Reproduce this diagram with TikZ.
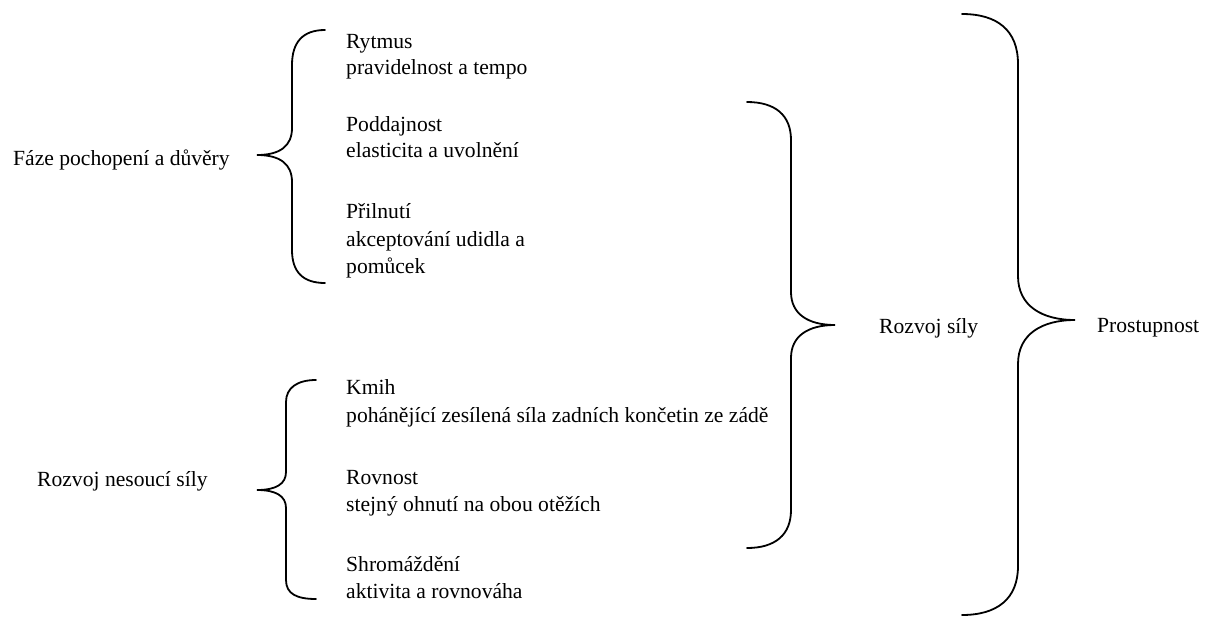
\documentclass[tikz,border=0pt]{standalone}
\usepackage{fontspec}
\setmainfont{Liberation Serif}
\begin{document}
\begin{tikzpicture}[x=1pt,y=-1pt,
  txt/.style={anchor=base west,inner sep=0pt,font=\fontsize{21.6}{27}\selectfont},
  brace/.style={draw=black,line width=1.8pt,line cap=round}]
\useasboundingbox (0,0) rectangle (1208,619);
% group labels
\node[txt] (faze) at (13,165) {Fáze pochopení a důvěry};
\node[txt] (nesouci) at (37,486) {Rozvoj nesoucí síly};
\node[txt] (sily) at (879,333) {Rozvoj síly};
\node[txt] (prost) at (1097,332) {Prostupnost};
% top group
\node[txt] (ryt1) at (346,48) {Rytmus};
\node[txt] (ryt2) at (346,74) {pravidelnost a tempo};
\node[txt] (pod1) at (346,131) {Poddajnost};
\node[txt] (pod2) at (346,157) {elasticita a uvolnění};
\node[txt] (pri1) at (346,218) {Přilnutí};
\node[txt] (pri2) at (346,246) {akceptování udidla a};
\node[txt] (pri3) at (346,273) {pomůcek};
% bottom group
\node[txt] (kmi1) at (346,394) {Kmih};
\node[txt] (kmi2) at (346,422) {pohánějící zesílená síla zadních končetin ze zádě};
\node[txt] (rov1) at (346,484) {Rovnost};
\node[txt] (rov2) at (346,511) {stejný ohnutí na obou otěžích};
\node[txt] (shr1) at (346,571) {Shromáždění};
\node[txt] (shr2) at (346,598) {aktivita a rovnováha};
% brace 1
\coordinate (b1t) at (325,30);
\coordinate (b1p) at (257,155);
\coordinate (b1b) at (325,283);
\draw[brace] (b1t) .. controls (303,30) and (292,42) .. (292,65) -- (292,128)
  .. controls (292,146) and (280,155) .. (b1p)
  .. controls (280,155) and (292,164) .. (292,182) -- (292,250)
  .. controls (292,272) and (303,283) .. (b1b);
% brace 2
\coordinate (b2t) at (316,380);
\coordinate (b2p) at (257,490);
\coordinate (b2b) at (316,599);
\draw[brace] (b2t) .. controls (297,380) and (286,388) .. (286,402) -- (286,472)
  .. controls (286,484) and (276,490) .. (b2p)
  .. controls (276,490) and (286,496) .. (286,508) -- (286,580)
  .. controls (286,594) and (297,599) .. (b2b);
% brace 3
\coordinate (b3t) at (747,102);
\coordinate (b3p) at (835,325);
\coordinate (b3b) at (747,548);
\draw[brace] (b3t) .. controls (775,102) and (791,115) .. (791,140) -- (791,292)
  .. controls (791,314) and (808,325) .. (b3p)
  .. controls (808,325) and (791,336) .. (791,358) -- (791,510)
  .. controls (791,535) and (775,548) .. (b3b);
% brace 4
\coordinate (b4t) at (962,14);
\coordinate (b4p) at (1075,320);
\coordinate (b4b) at (962,615);
\draw[brace] (b4t) .. controls (997,14) and (1018,30) .. (1018,64) -- (1018,276)
  .. controls (1018,306) and (1042,320) .. (b4p)
  .. controls (1042,320) and (1018,334) .. (1018,364) -- (1018,566)
  .. controls (1018,599) and (997,615) .. (b4b);
\end{tikzpicture}
\end{document}
